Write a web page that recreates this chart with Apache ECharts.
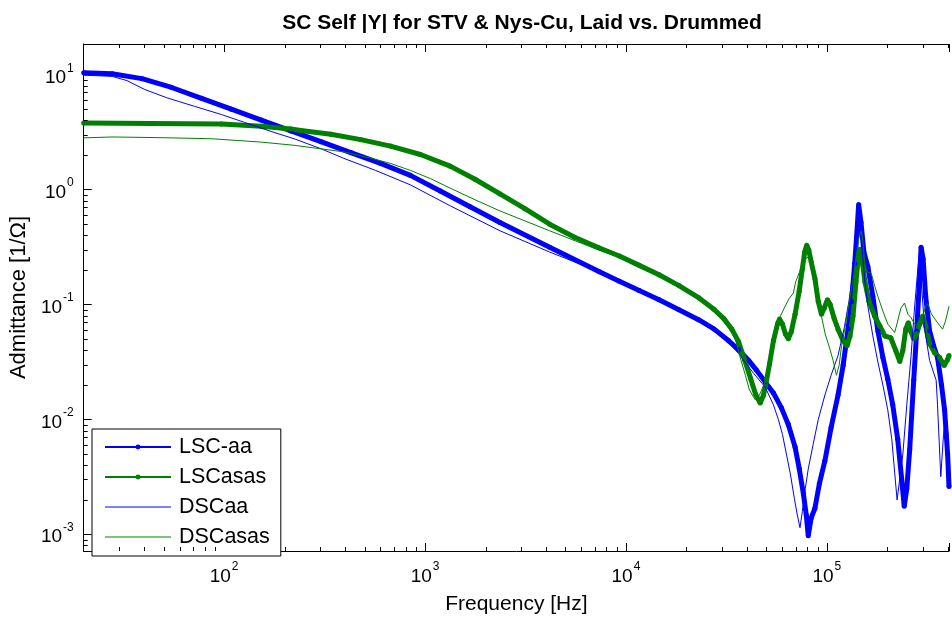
<!DOCTYPE html>
<html><head><meta charset="utf-8">
<script src="https://cdn.jsdelivr.net/npm/echarts@6/dist/echarts.min.js"></script>
<style>html,body{margin:0;padding:0;background:#fff}#c{width:952px;height:620px}</style>
</head><body><div id="c"></div>
<script>
const titleText = 'SC Self |Y| for STV & Nys-Cu, Laid vs. Drummed';
const xName = 'Frequency [Hz]';
const yName = 'Admittance [1/\u03A9]';
const seriesNames = ['LSC-aa', 'LSCasas', 'DSCaa', 'DSCasas'];
const xMin = 20, xMax = 4.055e5, yMin = 7.15e-4, yMax = 18.5;

// LSC-aa (thick blue, markers)
const fLaa = [20, 27.7, 39.0, 54.8, 77.2, 108.6, 153, 215, 303, 427, 601, 845, 1191, 1675, 2360, 4170, 7380, 9270, 11640, 14620, 18360, 23100, 27400, 32460, 36360, 40800, 44700, 49300, 54200, 59400, 64300, 69500, 72900, 76400, 79000, 80800, 83500, 87200, 91800, 97800, 105000, 113700, 120500, 127500, 132700, 137600, 140600, 144000, 147900, 152900, 160000, 169400, 179500, 190100, 201000, 212800, 225300, 235600, 242700, 250000, 258500, 270600, 280100, 288000, 294500, 301400, 310400, 324600, 339900, 355500, 372200, 385500, 399100, 405500];
const yLaa = [10.4, 10.2, 9.24, 7.74, 6.23, 5.01, 4.03, 3.24, 2.61, 2.10, 1.69, 1.33, 0.973, 0.710, 0.517, 0.315, 0.193, 0.1596, 0.1324, 0.1097, 0.0901, 0.0733, 0.0613, 0.0483, 0.0405, 0.0326, 0.0267, 0.0212, 0.0170, 0.0126, 0.00902, 0.00573, 0.00371, 0.00226, 0.00147, 0.00097, 0.00138, 0.00168, 0.00276, 0.00437, 0.0085, 0.0163, 0.0295, 0.0613, 0.1064, 0.227, 0.385, 0.741, 0.517, 0.286, 0.213, 0.1175, 0.0589, 0.0346, 0.0224, 0.0134, 0.00671, 0.00305, 0.00175, 0.0025, 0.0055, 0.0219, 0.0589, 0.143, 0.315, 0.249, 0.1175, 0.0589, 0.0438, 0.0346, 0.0199, 0.0121, 0.0050, 0.0026];

// LSCasas (thick green, markers)
const fLasas = [20, 43.7, 97, 153, 215, 241, 340, 479, 673, 948, 1334, 1774, 2360, 3140, 4170, 5550, 7380, 9270, 11640, 14620, 18360, 23100, 27400, 30700, 33600, 36360, 38900, 41700, 44150, 46600, 48400, 50100, 51900, 54200, 56800, 58100, 60100, 62200, 64300, 66500, 69500, 72800, 75500, 77600, 79400, 81300, 83600, 87200, 90600, 94000, 97000, 100700, 103700, 108600, 113700, 120500, 126100, 130400, 135000, 139700, 143700, 146100, 149500, 154700, 162100, 172900, 183500, 194400, 208000, 220300, 230600, 238800, 247200, 254400, 261300, 270600, 280100, 289700, 300000, 310400, 324600, 343600, 363900, 383500, 399100, 405500];
const yLasas = [3.8, 3.76, 3.72, 3.56, 3.37, 3.27, 3.03, 2.72, 2.39, 2.02, 1.60, 1.23, 0.916, 0.682, 0.50, 0.385, 0.31, 0.264, 0.219, 0.1815, 0.146, 0.114, 0.0909, 0.0754, 0.0613, 0.0474, 0.0332, 0.0228, 0.0166, 0.01385, 0.0163, 0.0219, 0.0307, 0.0483, 0.0676, 0.0746, 0.0676, 0.0555, 0.0503, 0.0578, 0.0824, 0.130, 0.204, 0.286, 0.328, 0.297, 0.234, 0.168, 0.1064, 0.0824, 0.0927, 0.110, 0.1005, 0.0762, 0.061, 0.0483, 0.0438, 0.0533, 0.0792, 0.158, 0.270, 0.303, 0.249, 0.158, 0.1064, 0.0792, 0.065, 0.0533, 0.0513, 0.0397, 0.0319, 0.0397, 0.0613, 0.0694, 0.0589, 0.0503, 0.0555, 0.0676, 0.0792, 0.065, 0.0456, 0.0381, 0.0346, 0.0295, 0.0332, 0.036];

// DSCaa (thin blue)
const fDaa = [20, 23.3, 27.7, 32.8, 40.3, 51.8, 71.3, 97, 126, 171, 223, 303, 394, 567, 845, 1334, 2360, 4170, 7380, 9270, 11640, 14620, 18360, 23100, 27400, 32460, 36360, 43150, 49300, 54200, 57400, 60100, 62900, 65800, 68900, 71300, 73500, 75500, 78100, 80800, 85500, 90600, 97800, 105000, 113700, 121800, 128800, 135000, 139700, 143700, 147900, 154300, 160000, 169400, 179500, 190100, 201000, 210500, 217800, 223700, 230600, 239000, 250000, 262600, 273600, 283000, 288600, 296400, 306700, 324600, 350000, 355500, 369000, 380900, 390700, 401000, 405500];
const yDaa = [9.9, 9.8, 9.67, 8.89, 7.43, 6.3, 5.3, 4.50, 3.85, 3.21, 2.77, 2.27, 1.87, 1.47, 1.10, 0.723, 0.438, 0.286, 0.193, 0.158, 0.130, 0.107, 0.088, 0.071, 0.059, 0.0465, 0.0374, 0.0252, 0.0191, 0.0134, 0.00995, 0.00741, 0.00499, 0.00336, 0.00205, 0.00147, 0.00114, 0.00158, 0.0025, 0.0037, 0.00608, 0.00995, 0.0163, 0.0242, 0.036, 0.0613, 0.1064, 0.193, 0.315, 0.441, 0.385, 0.1644, 0.0966, 0.0533, 0.0315, 0.0199, 0.0121, 0.00671, 0.00336, 0.00199, 0.00305, 0.005, 0.0134, 0.036, 0.0966, 0.193, 0.27, 0.143, 0.0613, 0.0326, 0.0219, 0.0134, 0.00317, 0.00741, 0.011, 0.00741, 0.0041];

// DSCasas (thin green)
const fDasas = [20, 27.7, 49, 86.5, 153, 223, 394, 535, 673, 845, 1065, 1334, 1774, 2360, 4170, 7380, 9270, 11640, 14620, 18360, 23100, 28970, 32460, 35050, 36800, 39300, 41200, 44000, 46200, 49300, 51900, 55300, 58100, 62000, 65000, 68100, 70000, 74800, 78100, 80800, 83600, 85500, 89500, 94000, 98100, 103500, 107400, 111600, 115100, 118400, 122700, 127500, 131800, 135000, 139700, 144500, 148300, 151400, 154300, 158200, 166400, 173400, 179500, 190100, 201000, 217500, 225300, 233500, 243500, 253000, 262600, 273600, 283000, 296400, 310400, 317700, 331700, 355500, 376700, 389600, 405500];
const yDasas = [2.82, 2.87, 2.83, 2.77, 2.59, 2.43, 2.13, 1.88, 1.69, 1.47, 1.245, 1.03, 0.815, 0.652, 0.438, 0.296, 0.258, 0.222, 0.184, 0.148, 0.112, 0.0792, 0.0625, 0.050, 0.036, 0.0242, 0.018, 0.0148, 0.0163, 0.0212, 0.0326, 0.0533, 0.0762, 0.0966, 0.113, 0.1256, 0.158, 0.213, 0.249, 0.259, 0.239, 0.199, 0.1175, 0.0792, 0.0555, 0.041, 0.0326, 0.0242, 0.0295, 0.0438, 0.061, 0.0927, 0.130, 0.1644, 0.249, 0.385, 0.438, 0.348, 0.227, 0.193, 0.186, 0.143, 0.1175, 0.0875, 0.0676, 0.057, 0.0718, 0.0927, 0.103, 0.0824, 0.0766, 0.0676, 0.065, 0.0718, 0.0966, 0.102, 0.0824, 0.0694, 0.061, 0.0718, 0.0966];

const FONT = 'Liberation Sans, Arial, Helvetica, sans-serif';
function pairs(f, y) { return f.map((v, i) => [v, y[i]]); }
function powLabel(v) {
  const l = Math.log10(v), e = Math.round(l);
  if (Math.abs(l - e) > 1e-6) return '';
  return '{b|10}{s|' + e + '}';
}
const richLbl = {
  b: { fontSize: 19, fontFamily: FONT, color: '#000', padding: [6, 0, 0, 0] },
  s: { fontSize: 12, fontFamily: FONT, color: '#000', verticalAlign: 'top', padding: [0, 0, 0, 1] }
};

const chart = echarts.init(document.getElementById('c'), null, { renderer: 'canvas' });
const option = {
  animation: false,
  backgroundColor: '#fff',
  title: {
    text: titleText, left: 517, top: 8, textAlign: 'center',
    textStyle: { fontFamily: FONT, fontSize: 21, fontWeight: 'bold', color: '#000' }
  },
  grid: { left: 82, right: 0, top: 44, bottom: 62, containLabel: false },
  legend: {
    orient: 'vertical', left: 92, top: 429,
    padding: [7, 11, 8, 12], itemGap: 8, itemWidth: 66, itemHeight: 6,
    backgroundColor: '#fff', borderColor: '#000', borderWidth: 1, borderRadius: 0,
    textStyle: { fontFamily: FONT, fontSize: 21.5, lineHeight: 20, color: '#000', padding: [0, 0, 0, 3] },
    data: [
      { name: seriesNames[0], lineStyle: { width: 2 } },
      { name: seriesNames[1], lineStyle: { width: 2 } },
      { name: seriesNames[2], lineStyle: { width: 1 }, itemStyle: { opacity: 0 } },
      { name: seriesNames[3], lineStyle: { width: 1 }, itemStyle: { opacity: 0 } }
    ]
  },
  xAxis: [{
    type: 'log', min: xMin, max: xMax, position: 'bottom',
    name: xName, nameLocation: 'middle', nameGap: 43,
    nameTextStyle: { fontFamily: FONT, fontSize: 21, color: '#000' },
    axisLine: { show: true, lineStyle: { color: '#000', width: 1 } },
    axisTick: { show: true, inside: true, length: 8, lineStyle: { color: '#000' } },
    axisLabel: { formatter: powLabel, rich: richLbl, margin: 10, showMinLabel: true, showMaxLabel: true },
    splitLine: { show: false }
  }, {
    type: 'log', min: xMin, max: xMax, position: 'top',
    axisLine: { show: true, lineStyle: { color: '#000', width: 1 } },
    axisTick: { show: true, inside: true, length: 8, lineStyle: { color: '#000' } },
    axisLabel: { show: false }, splitLine: { show: false }
  }],
  yAxis: [{
    type: 'log', min: yMin, max: yMax, position: 'left',
    name: yName, nameLocation: 'middle', nameGap: 49, nameRotate: 90,
    nameTextStyle: { fontFamily: FONT, fontSize: 22, color: '#000' },
    axisLine: { show: true, lineStyle: { color: '#000', width: 1 } },
    axisTick: { show: true, inside: true, length: 8, lineStyle: { color: '#000' } },
    axisLabel: { formatter: powLabel, rich: richLbl, margin: 10, align: 'right' },
    splitLine: { show: false }
  }],
  series: [
    { name: seriesNames[0], type: 'line', data: pairs(fLaa, yLaa), color: '#0000ff',
      lineStyle: { width: 5 }, symbol: 'circle', symbolSize: 5, showSymbol: true, showAllSymbol: true, z: 2 },
    { name: seriesNames[1], type: 'line', data: pairs(fLasas, yLasas), color: '#008000',
      lineStyle: { width: 5 }, symbol: 'circle', symbolSize: 5, showSymbol: true, showAllSymbol: true, z: 2 },
    { name: seriesNames[2], type: 'line', data: pairs(fDaa, yDaa), color: '#0000ff',
      lineStyle: { width: 1 }, symbol: 'none', z: 3 },
    { name: seriesNames[3], type: 'line', data: pairs(fDasas, yDasas), color: '#008000',
      lineStyle: { width: 1 }, symbol: 'none', z: 3 }
  ]
};
chart.setOption(option);

// Minor ticks (2..9 within each decade) placed through the axes' own scales
const gr = [];
const yTopPx = chart.convertToPixel({ yAxisIndex: 0 }, yMax);
const yBotPx = chart.convertToPixel({ yAxisIndex: 0 }, yMin);
const xLeftPx = chart.convertToPixel({ xAxisIndex: 0 }, xMin);
for (let d = 1; d <= 5; d++) {
  for (let m = 2; m <= 9; m++) {
    const v = m * Math.pow(10, d);
    if (v <= xMin || v >= xMax) continue;
    const px = Math.round(chart.convertToPixel({ xAxisIndex: 0 }, v)) + 0.5;
    gr.push({ type: 'line', silent: true, z: 10, shape: { x1: px, y1: yBotPx, x2: px, y2: yBotPx - 4 }, style: { stroke: '#000', lineWidth: 1 } });
    gr.push({ type: 'line', silent: true, z: 10, shape: { x1: px, y1: yTopPx, x2: px, y2: yTopPx + 4 }, style: { stroke: '#000', lineWidth: 1 } });
  }
}
for (let d = -4; d <= 1; d++) {
  for (let m = 2; m <= 9; m++) {
    const v = m * Math.pow(10, d);
    if (v <= yMin || v >= yMax) continue;
    const py = Math.round(chart.convertToPixel({ yAxisIndex: 0 }, v)) + 0.5;
    gr.push({ type: 'line', silent: true, z: 10, shape: { x1: xLeftPx, y1: py, x2: xLeftPx + 4, y2: py }, style: { stroke: '#000', lineWidth: 1 } });
  }
}
chart.setOption({ graphic: gr });
</script>
</body></html>
